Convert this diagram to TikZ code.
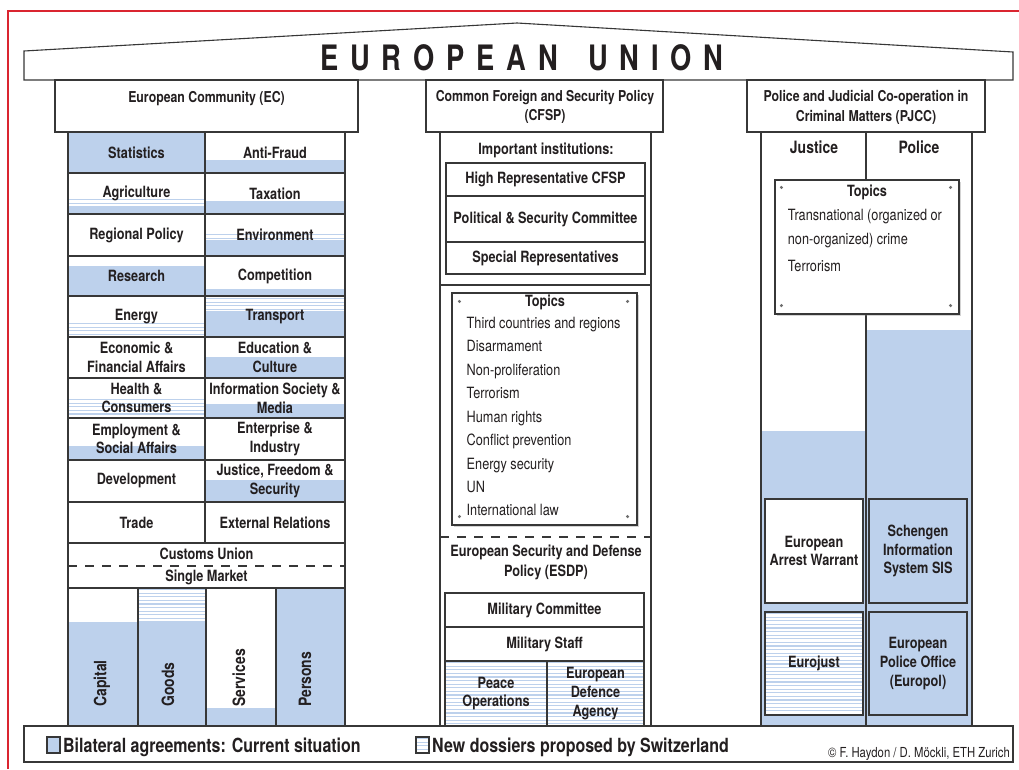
\documentclass[tikz,border=0pt]{standalone}
\usepackage{fontspec}
\setmainfont{TeX Gyre Heros}[FakeStretch=0.82]
\newfontfamily\titlefont{TeX Gyre Heros}[FakeStretch=0.78,LetterSpace=34]
\usetikzlibrary{shadows,calc}
\definecolor{bl}{RGB}{189,209,236}
\definecolor{lc}{RGB}{55,55,55}
\definecolor{tx}{RGB}{35,31,32}
\definecolor{rd}{RGB}{218,37,48}
\definecolor{dotc}{RGB}{110,110,110}
\newcommand\cellfont{\fontsize{15.5}{18.8}\selectfont\bfseries}
\newcommand\headfont{\fontsize{15}{19.5}\selectfont\bfseries}
\newcommand\bigboldfont{\fontsize{17}{20}\selectfont\bfseries}
\newcommand\topfont{\fontsize{15.5}{20}\selectfont}
\newcommand\legfont{\fontsize{19.5}{22}\selectfont\bfseries}
\newcommand\copyfont{\fontsize{13.8}{15}\selectfont}
\tikzset{
  ln/.style={draw=lc, line width=1.1pt},
  box/.style={ln, inner sep=0pt, align=center, font=\cellfont, text=tx},
  lbl/.style={inner sep=0pt, align=center, font=\cellfont, text=tx},
  hdl/.style={lbl, font=\headfont},
  hatchl/.style={draw=bl, line width=1.15pt},
  topicbox/.style={ln, fill=white, drop shadow={shadow xshift=2pt, shadow yshift=-2pt, opacity=0.35}},
  item/.style={inner sep=0pt, anchor=base west, font=\topfont, text=tx},
  cdot/.style={fill=dotc},
  dash17/.style={ln, dash pattern=on 9pt off 8pt},
}
\newcommand\bx[7][]{\node[box,minimum width={#5-#3},minimum height={#6-#4},#1] (#2) at ({(#3+#5)/2},{(#4+#6)/2}) {#7};}
\newcommand\bfil[4]{\fill[bl] (#1,#2) rectangle (#3,#4);}
\newcommand\hatchbox[4]{\begin{scope}\fill[white] (#1,#2) rectangle (#3,#4);\clip (#1,#2) rectangle (#3,#4);\foreach \k in {0,...,34}{\draw[hatchl] (#1,{#2+1.6+3.6*\k}) -- (#3,{#2+1.6+3.6*\k});}\end{scope}}
\begin{document}
\begin{tikzpicture}[x=1pt,y=-1pt]
\useasboundingbox (0,0) rectangle (1019,769);
% red frame
\draw[rd, line width=1.2pt] (8,769) -- (8,11) -- (1019,11);
% roof
\draw[ln, fill=white] (24,80) -- (24,51) -- (517,23) -- (1013,52) -- (1013,80) -- cycle;
\node[text=tx, inner sep=0pt, font={\titlefont\fontsize{35}{36}\selectfont\bfseries}] (title) at (522,57.5) {EUROPEAN\hspace{30pt}UNION};
% headers
\bx{ech}{55}{80}{358}{132}{}
\node[hdl] (echt) at (206.5,98.5) {European Community (EC)};
\bx{cfh}{426}{80}{663}{132}{}
\node[hdl] (cfht) at (545,107) {Common Foreign and Security Policy\\(CFSP)};
\bx{pjh}{747}{80}{985}{132}{}
\node[hdl] (pjht) at (866,107.5) {Police and Judicial Co-operation in\\Criminal Matters (PJCC)};
% ---------------- EC fills
\bfil{68}{132}{205}{173}
\bfil{205}{160}{345}{173}
\hatchbox{68}{198}{205}{206}
\bfil{68}{206}{205}{214}
\bfil{205}{201}{345}{214}
\hatchbox{205}{233}{345}{240}
\bfil{205}{240}{345}{256}
\bfil{68}{266}{205}{296}
\bfil{205}{289}{345}{296}
\hatchbox{68}{322}{205}{337}
\hatchbox{205}{297}{345}{311}
\bfil{205}{311}{345}{337}
\bfil{205}{357}{345}{378}
\hatchbox{68}{398}{205}{418}
\bfil{205}{404}{345}{418}
\bfil{68}{446}{205}{460}
\bfil{205}{480}{345}{502}
\bfil{68}{622}{138}{726}
\hatchbox{138}{588}{206}{622}
\bfil{138}{622}{206}{726}
\bfil{206}{708}{276}{726}
\bfil{276}{588}{345}{726}
% ---------------- EC cells
\bx{c11}{68}{132}{205}{173}{Statistics}
\bx{c12}{205}{132}{345}{173}{Anti-Fraud}
\bx{c21}{68}{173}{205}{214}{Agriculture}
\bx{c22}{205}{173}{345}{214}{Taxation}
\bx{c31}{68}{214}{205}{256}{Regional Policy}
\bx{c32}{205}{214}{345}{256}{Environment}
\bx{c41}{68}{256}{205}{296}{Research}
\bx{c42}{205}{256}{345}{296}{Competition}
\bx{c51}{68}{296}{205}{337}{Energy}
\bx{c52}{205}{296}{345}{337}{Transport}
\bx{c61}{68}{337}{205}{378}{Economic \&\\Financial Affairs}
\bx{c62}{205}{337}{345}{378}{Education \&\\Culture}
\bx{c71}{68}{378}{205}{418}{Health \&\\Consumers}
\bx{c72}{205}{378}{345}{418}{Information Society \&\\Media}
\bx{c81}{68}{418}{205}{460}{Employment \&\\Social Affairs}
\bx{c82}{205}{418}{345}{460}{Enterprise \&\\Industry}
\bx{c91}{68}{460}{205}{502}{Development}
\bx{c92}{205}{460}{345}{502}{Justice, Freedom \&\\Security}
\bx{c101}{68}{502}{205}{543}{Trade}
\bx{c102}{205}{502}{345}{543}{External Relations}
\bx{csm}{68}{543}{345}{588}{}
\node[lbl] (cu) at (206.5,554) {Customs Union};
\node[lbl] (sm) at (206.5,577.5) {Single Market};
\coordinate (dl1) at (68,566);
\coordinate (dr1) at (345,566);
\draw[dash17] (dl1) -- (dr1);
\bx{k1}{68}{588}{138}{726}{}
\bx{k2}{138}{588}{206}{726}{}
\bx{k3}{206}{588}{276}{726}{}
\bx{k4}{276}{588}{345}{726}{}
\node[lbl, font=\bigboldfont, rotate=90, anchor=west] (kl1) at (102,707) {Capital};
\node[lbl, font=\bigboldfont, rotate=90, anchor=west] (kl2) at (168,707) {Goods};
\node[lbl, font=\bigboldfont, rotate=90, anchor=west] (kl3) at (239,707) {Services};
\node[lbl, font=\bigboldfont, rotate=90, anchor=west] (kl4) at (305,707) {Persons};
% ---------------- CFSP
\bx{cfu}{440}{132}{651}{285}{}
\bx{cfl}{440}{285}{651}{726}{}
\node[lbl] (imp) at (546,150) {Important institutions:};
\bx{i1}{446}{163}{645}{196}{High Representative CFSP}
\bx{i2}{446}{196}{645}{242}{Political \& Security Committee}
\bx{i3}{446}{242}{645}{274}{Special Representatives}
\bx[topicbox]{ct}{452}{293}{637}{525}{}
\node[lbl] (cth) at (545,302.5) {Topics};
\foreach \t [count=\i from 0] in {Third countries and regions, Disarmament, Non-proliferation, Terrorism, Human rights, Conflict prevention, Energy security, UN, International law}
  \node[item] (cti\i) at (466.5,{328.3+23.45*\i}) {\t};
\fill[cdot] ($(ct.north west)+(8,9)$) circle (1.7);
\fill[cdot] ($(ct.north east)+(-10,9)$) circle (1.7);
\fill[cdot] ($(ct.south west)+(8,-9)$) circle (1.7);
\fill[cdot] ($(ct.south east)+(-10,-9)$) circle (1.7);
\coordinate (dl2) at (440,537);
\coordinate (dr2) at (651,537);
\draw[dash17] (dl2) -- (dr2);
\node[lbl, font={\fontsize{15.5}{20}\selectfont\bfseries}] (esdp) at (546,562) {European Security and Defense\\Policy (ESDP)};
\bx{mc}{445}{593}{644}{627}{Military Committee}
\bx{mst}{445}{627}{644}{661}{Military Staff}
\hatchbox{445}{661}{644}{726}
\bx{po}{445}{661}{547}{726}{Peace\\Operations}
\bx{eda}{547}{661}{644}{726}{European\\Defence\\Agency}
% ---------------- PJCC
\bfil{761}{431}{866}{726}
\bfil{866}{330}{972}{726}
\bx{jc}{761}{132}{866}{726}{}
\bx{pc}{866}{132}{972}{726}{}
\node[lbl, font=\bigboldfont] (jl) at (814,147) {Justice};
\node[lbl, font=\bigboldfont] (pl) at (919,147) {Police};
\bx[topicbox]{pt}{775}{180}{959}{314}{}
\node[lbl] (pth) at (867,192) {Topics};
\node[item] (pti0) at (787.7,220.7) {Transnational (organized or};
\node[item] (pti1) at (787.7,244) {non-organized) crime};
\node[item] (pti2) at (787.7,271.7) {Terrorism};
\fill[cdot] ($(pt.north west)+(7,8)$) circle (1.7);
\fill[cdot] ($(pt.north east)+(-9,8)$) circle (1.7);
\fill[cdot] ($(pt.south west)+(7,-9)$) circle (1.7);
\fill[cdot] ($(pt.south east)+(-9,-9)$) circle (1.7);
\bx[fill=white]{eaw}{765}{499}{863}{603}{European\\Arrest Warrant}
\hatchbox{765}{612}{863}{715}
\bx{ej}{765}{612}{863}{715}{Eurojust}
\bx[fill=bl]{sis}{869}{499}{967}{603}{Schengen\\Information\\System SIS}
\bx[fill=bl]{eur}{869}{612}{967}{715}{European\\Police Office\\(Europol)}
% ---------------- legend
\bx[fill=white]{leg}{24}{726}{1013}{762}{}
\bx[fill=bl]{sq1}{47}{737}{60}{753}{}
\node[lbl, font=\legfont, anchor=base west] (lt1) at (63,752.5) {Bilateral agreements: Current situation};
\hatchbox{416}{737}{429}{753}
\bx{sq2}{416}{737}{429}{753}{}
\node[lbl, font=\legfont, anchor=base west] (lt2) at (432,752.5) {New dossiers proposed by Switzerland};
\node[lbl, font=\copyfont, anchor=base east] (cp) at (1010,757) {© F. Haydon / D. Möckli, ETH Zurich};
\end{tikzpicture}
\end{document}
